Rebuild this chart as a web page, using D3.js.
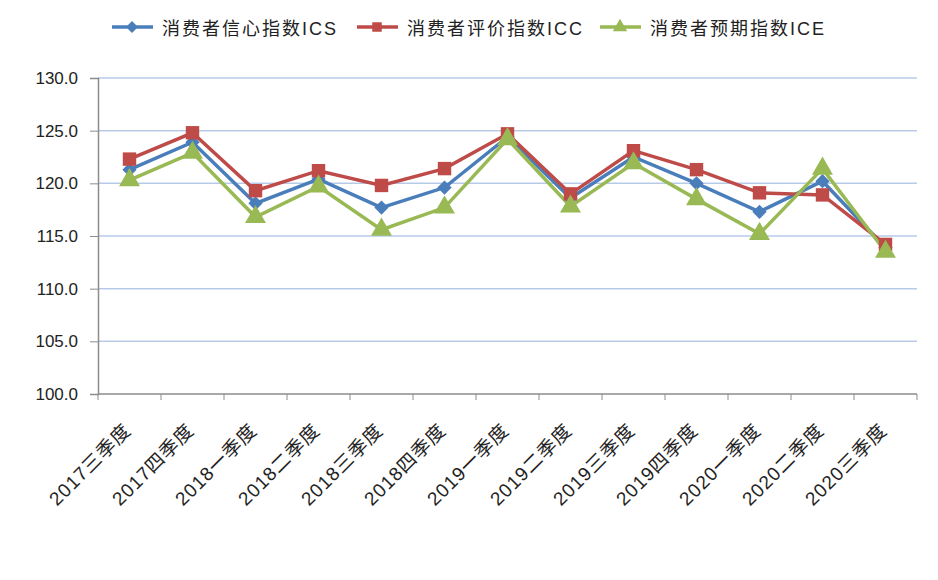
<!DOCTYPE html>
<html>
<head>
<meta charset="utf-8">
<script src="https://cdn.jsdelivr.net/npm/d3@7"></script>
<style>
  body { margin: 0; background: #fff; }
  text { font-family: "Liberation Sans", "Noto Sans CJK SC", sans-serif; fill: #222; }
</style>
</head>
<body>
<div id="chart"></div>
<script>
var categories = ["2017三季度", "2017四季度", "2018一季度", "2018二季度", "2018三季度", "2018四季度",
    "2019一季度", "2019二季度", "2019三季度", "2019四季度", "2020一季度", "2020二季度", "2020三季度"];
var ics = [121.3, 123.9, 118.1, 120.4, 117.7, 119.6, 124.4, 118.6, 122.5, 120.0, 117.3, 120.2, 113.9];
var icc = [122.3, 124.8, 119.3, 121.2, 119.8, 121.4, 124.7, 119.0, 123.1, 121.3, 119.1, 118.9, 114.2];
var ice = [120.3, 122.9, 116.8, 119.7, 115.6, 117.7, 124.2, 117.8, 121.9, 118.5, 115.2, 121.4, 113.5];
var seriesNames = ["消费者信心指数ICS", "消费者评价指数ICC", "消费者预期指数ICE"];
var yTicks = [100, 105, 110, 115, 120, 125, 130];

var svgWidth = 938;
var svgHeight = 580;
var margin = {top: 78, right: 21, bottom: 186, left: 98};
var width = svgWidth - margin.left - margin.right;
var height = svgHeight - margin.top - margin.bottom;

var svg = d3.select("#chart").append("svg")
    .attr("width", svgWidth)
    .attr("height", svgHeight);

var chartGroup = svg.append("g")
    .attr("transform", `translate(${margin.left}, ${margin.top})`);

var xScale = d3.scaleBand().domain(categories).range([0, width]);
var yScale = d3.scaleLinear().domain([100, 130]).range([height, 0]);

// gridlines
chartGroup.selectAll(".grid")
    .data(yTicks.slice(1))
    .enter()
    .append("line")
    .attr("x1", 0)
    .attr("x2", width)
    .attr("y1", d => yScale(d))
    .attr("y2", d => yScale(d))
    .attr("stroke", "#b7cbe9")
    .attr("stroke-width", 1.5);

// y axis
var leftAxis = d3.axisLeft(yScale).tickValues(yTicks).tickSize(8).tickFormat(d3.format(".1f"));
var yAxisG = chartGroup.append("g").call(leftAxis);
yAxisG.select(".domain").attr("stroke", "#8c8c8c").attr("stroke-width", 1.5);
yAxisG.selectAll(".tick line").attr("stroke", "#8c8c8c");
yAxisG.selectAll("text")
    .attr("x", -20)
    .style("font-size", "17px")
    .style("fill", "#222");

// x axis
var xAxisG = chartGroup.append("g").attr("transform", `translate(0, ${height})`);
xAxisG.append("line")
    .attr("x1", 0).attr("x2", width)
    .attr("stroke", "#8c8c8c").attr("stroke-width", 1.5);
var bounds = d3.range(categories.length + 1).map(i => i * xScale.bandwidth());
xAxisG.selectAll(".xtick")
    .data(bounds)
    .enter()
    .append("line")
    .attr("x1", d => d).attr("x2", d => d)
    .attr("y1", 0).attr("y2", 6)
    .attr("stroke", "#8c8c8c");
xAxisG.selectAll(".xlabel")
    .data(categories)
    .enter()
    .append("text")
    .attr("transform", d => `translate(${xScale(d) + xScale.bandwidth() / 2 - 2}, 33) rotate(-45)`)
    .attr("text-anchor", "end")
    .attr("dy", "0.35em")
    .style("font-size", "19px")
    .style("letter-spacing", "1px")
    .text(d => d);

// series
var colors = ["#4a7ebb", "#be4b48", "#98b954"];
var data = [ics, icc, ice];
var xPos = function(i) { return xScale(categories[i]) + xScale.bandwidth() / 2; };
var line = d3.line().x((d, i) => xPos(i)).y(d => yScale(d));

var symbols = [
    d3.symbol().type(d3.symbolDiamond2).size(130),
    d3.symbol().type(d3.symbolSquare).size(180),
    d3.symbol().type(d3.symbolTriangle).size(190)
];

data.forEach(function(vals, s) {
    chartGroup.append("path")
        .datum(vals)
        .attr("fill", "none")
        .attr("stroke", colors[s])
        .attr("stroke-width", 3.5)
        .attr("d", line);
});
data.forEach(function(vals, s) {
    chartGroup.selectAll(".m" + s)
        .data(vals)
        .enter()
        .append("path")
        .attr("transform", (d, i) => `translate(${xPos(i)}, ${yScale(d)})`)
        .attr("d", symbols[s])
        .attr("fill", colors[s]);
});

// legend
var legendX = [112, 357, 600];
var legend = svg.selectAll(".legend")
    .data(seriesNames)
    .enter()
    .append("g")
    .attr("transform", (d, i) => `translate(${legendX[i]}, 27)`);
legend.append("line")
    .attr("x1", 0).attr("x2", 41)
    .attr("stroke", (d, i) => colors[i])
    .attr("stroke-width", 3.5);
legend.append("path")
    .attr("transform", "translate(20, 0)")
    .attr("d", (d, i) => symbols[i].size(90)())
    .attr("fill", (d, i) => colors[i]);
legend.append("text")
    .attr("x", 50)
    .attr("y", 2)
    .attr("dy", "0.35em")
    .style("font-size", "18px")
    .style("letter-spacing", "2px")
    .text(d => d);
</script>
</body>
</html>
